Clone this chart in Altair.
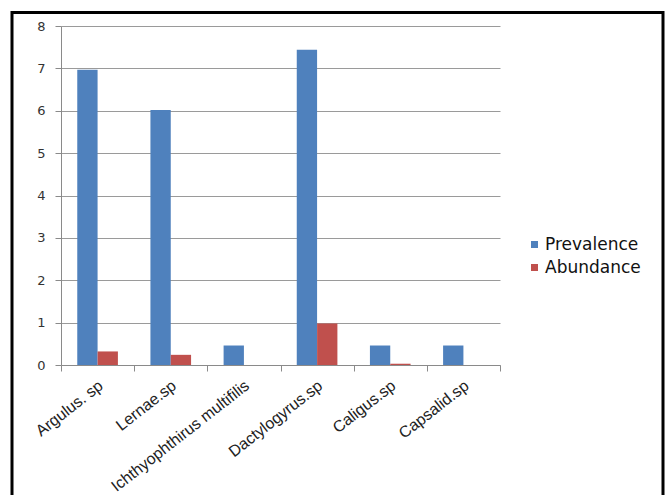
import altair as alt
import pandas as pd

# Parasite species and the two measured series
species = [
    "Argulus. sp",
    "Lernae.sp",
    "Ichthyophthirus multifilis",
    "Dactylogyrus.sp",
    "Caligus.sp",
    "Capsalid.sp",
]
prevalence = [6.97, 6.02, 0.46, 7.44, 0.46, 0.46]
abundance = [0.32, 0.24, 0.0, 0.98, 0.03, 0.0]

series_names = ["Prevalence", "Abundance"]
series_colors = ["#4F81BD", "#C0504D"]

rows = []
for sp, p, a in zip(species, prevalence, abundance):
    rows.append({"Species": sp, "Series": "Prevalence", "Value": p})
    rows.append({"Species": sp, "Series": "Abundance", "Value": a})
df = pd.DataFrame(rows)

W, H = 439, 339
LEFT, TOP = 61, 26

bars = alt.Chart(df).mark_bar().encode(
    x=alt.X(
        "Species:N",
        sort=species,
        title=None,
        scale=alt.Scale(paddingInner=0, paddingOuter=0),
        axis=alt.Axis(
            labelAngle=-38,
            labelAlign="right",
            labelBaseline="top",
            labelFont="Liberation Sans",
            labelFontSize=16,
            labelColor="#222222",
            labelPadding=6,
            labelOffset=-2,
            labelLimit=400,
            labelOverlap=False,
            domainColor="#8a8a8a",
            tickColor="#8a8a8a",
            tickSize=6,
            tickBand="extent",
            grid=False,
        ),
    ),
    xOffset=alt.XOffset(
        "Series:N",
        sort=series_names,
        scale=alt.Scale(paddingInner=0, paddingOuter=0.8),
    ),
    y=alt.Y(
        "Value:Q",
        title=None,
        scale=alt.Scale(domain=[0, 8], nice=False),
        axis=alt.Axis(
            values=list(range(0, 9)),
            labelFont="DejaVu Sans",
            labelFontSize=13,
            labelColor="#333333",
            labelPadding=10,
            domainColor="#8a8a8a",
            tickColor="#8a8a8a",
            tickSize=6,
            gridColor="#9a9a9a",
            gridWidth=1,
        ),
    ),
    color=alt.Color(
        "Series:N",
        sort=series_names,
        scale=alt.Scale(domain=series_names, range=series_colors),
        legend=alt.Legend(
            title=None,
            orient="none",
            legendX=465,
            legendY=210,
            symbolType="square",
            symbolSize=49,
            symbolStrokeWidth=0,
            labelFont="DejaVu Sans",
            labelFontSize=17,
            labelColor="#111111",
            labelOffset=2,
            rowPadding=5,
        ),
    ),
)

# Black frame around the whole figure
frame = alt.Chart(pd.DataFrame({"k": [0]})).mark_rect(
    fill=None, stroke="black", strokeWidth=3
).encode(
    x=alt.value(12 - LEFT),
    x2=alt.value(663 - LEFT),
    y=alt.value(12.5 - TOP),
    y2=alt.value(520 - TOP),
)

chart = (
    alt.layer(bars, frame)
    .properties(
        width=W,
        height=H,
        autosize=alt.AutoSizeParams(type="none"),
        padding={"left": LEFT, "top": TOP, "right": 667 - LEFT - W, "bottom": 160},
        background="white",
    )
    .configure_view(stroke=None)
)

chart.save("out.html", embed_options={"renderer": "svg", "actions": False})
